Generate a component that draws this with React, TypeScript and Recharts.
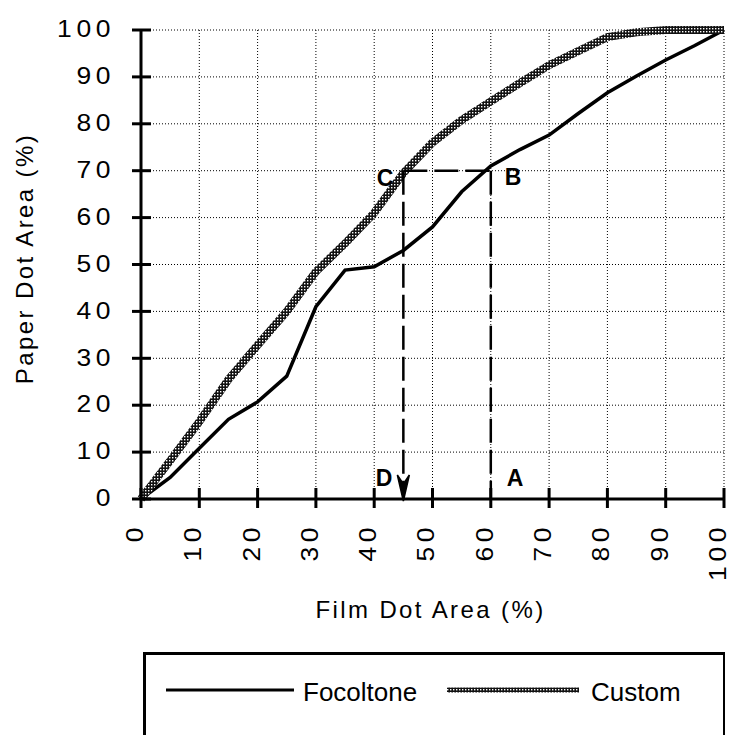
import React from 'react';
import {
  LineChart,
  Line,
  XAxis,
  YAxis,
  CartesianGrid,
  ReferenceLine,
  ReferenceDot,
  Legend,
} from 'recharts';

// ---------- data ----------
const filmDotArea = [0, 5, 10, 15, 20, 25, 30, 35, 40, 45, 50, 55, 60, 65, 70, 75, 80, 85, 90, 95, 100];
const focoltoneValues = [0, 4.6, 10.8, 17, 20.7, 26.2, 41, 48.8, 49.5, 53, 58, 65.5, 71, 74.5, 77.6, 82.2, 86.6, 90.2, 93.6, 96.7, 100];
const customValues = [0, 8.2, 16.5, 25.5, 32.8, 40, 48.5, 54.5, 61, 69.5, 76, 80.8, 84.8, 88.7, 92.5, 95.5, 98.5, 99.5, 100, 100, 100];
const axisTicks = [0, 10, 20, 30, 40, 50, 60, 70, 80, 90, 100];
const seriesNames = ['Focoltone', 'Custom'];
const xTitle = 'Film Dot Area (%)';
const yTitle = 'Paper Dot Area (%)';
const guideFilm = [45, 60];
const guidePaper = 70;
const guideLabels = ['C', 'B', 'A', 'D'];

const data = filmDotArea.map((x, i) => ({
  film: x,
  focoltone: focoltoneValues[i],
  custom: customValues[i],
}));

// ---------- styling helpers ----------
const FONT = '"Liberation Sans", Arial, Helvetica, sans-serif';
const TICK_SIZE = 9;
const TICK_MARGIN = 0;

function YTick(props: any) {
  const { x, y, payload } = props;
  const ax = x + TICK_SIZE + TICK_MARGIN;
  return (
    <g>
      <line x1={ax - 9} x2={ax + 10} y1={y} y2={y} stroke="#000" strokeWidth={3} />
      <text
        transform={`translate(${ax - 26},${y - 1}) scale(1.15,1)`}
        textAnchor="end"
        dy="0.36em"
        fontFamily={FONT}
        fontSize={23}
        letterSpacing={4}
        fill="#000"
      >
        {payload.value}
      </text>
    </g>
  );
}

function XTick(props: any) {
  const { x, y, payload } = props;
  const ay = y - TICK_SIZE - TICK_MARGIN;
  return (
    <g>
      <line x1={x} x2={x} y1={ay - 11} y2={ay + 9} stroke="#000" strokeWidth={3} />
      <text
        transform={`translate(${x - 5},${ay + 24}) rotate(-90) scale(1.15,1)`}
        textAnchor="end"
        dy="0.3em"
        fontFamily={FONT}
        fontSize={23}
        letterSpacing={4}
        fill="#000"
      >
        {payload.value}
      </text>
    </g>
  );
}

const XTitle = (p: any) => {
  const vb = p.viewBox || { x: 141, y: 499, width: 583, height: 236 };
  return (
    <text
      x={vb.x + vb.width / 2 - 2}
      y={vb.y + 119}
      textAnchor="middle"
      fontFamily={FONT}
      fontSize={24}
      letterSpacing={2.4}
      fill="#000"
    >
      {xTitle}
    </text>
  );
};

const YTitle = (p: any) => {
  const vb = p.viewBox || { x: 0, y: 30, width: 141, height: 469 };
  const cx = 33;
  const cy = vb.y + vb.height / 2 - 6;
  return (
    <text
      transform={`translate(${cx},${cy}) rotate(-90)`}
      textAnchor="middle"
      fontFamily={FONT}
      fontSize={24}
      letterSpacing={2.4}
      fill="#000"
    >
      {yTitle}
    </text>
  );
};

const labelShape = (label: string, dx: number, dy: number, anchor: string) => (p: any) => (
  <text
    x={p.cx + dx}
    y={p.cy + dy}
    textAnchor={anchor}
    fontFamily={FONT}
    fontWeight="bold"
    fontSize={23}
    fill="#000"
  >
    {label}
  </text>
);

const arrowShape = (p: any) => (
  <path
    d={`M${p.cx - 6},${p.cy - 24} L${p.cx},${p.cy + 2} L${p.cx + 6},${p.cy - 24} L${p.cx},${p.cy - 15} Z`}
    fill="#000"
    stroke="#000"
    strokeWidth={1.5}
    strokeLinejoin="miter"
  />
);

function LegendBox() {
  return (
    <div
      style={{
        width: 582,
        height: 83,
        boxSizing: 'border-box',
        borderTop: '3px solid #000',
        borderLeft: '3px solid #000',
        borderRight: '2px solid #000',
        background: '#fff',
      }}
    >
      <svg width={577} height={80} style={{ display: 'block' }}>
        <line x1={20} x2={148} y1={35} y2={35} stroke="#000" strokeWidth={3} />
        <text x={157} y={46} fontFamily={FONT} fontSize={26} fill="#000">
          {seriesNames[0]}
        </text>
        <line x1={301} x2={433} y1={35} y2={35} stroke="url(#customPattern)" strokeWidth={5} />
        <text x={445} y={46} fontFamily={FONT} fontSize={26} fill="#000">
          {seriesNames[1]}
        </text>
      </svg>
    </div>
  );
}

export default function App() {
  const dash = '24 7';
  return (
    <div style={{ position: 'absolute', left: 0, top: 0, width: 731, height: 735, background: '#fff', overflow: 'hidden' }}>
      <svg width={0} height={0} style={{ position: 'absolute' }}>
        <defs>
          <pattern id="customPattern" width={3} height={3} patternUnits="userSpaceOnUse">
            <rect x={0} y={0} width={3} height={3} fill="#111" />
            <rect x={1} y={1} width={1.4} height={1.4} fill="#fff" />
          </pattern>
        </defs>
      </svg>
      <LineChart
        width={731}
        height={735}
        data={data}
        margin={{ top: 30, right: 7, left: 0, bottom: 0 }}
      >
        <CartesianGrid stroke="#000" strokeDasharray="1 2" strokeWidth={1} />
        <XAxis
          type="number"
          dataKey="film"
          domain={[0, 100]}
          ticks={axisTicks}
          interval={0}
          height={236}
          tickSize={TICK_SIZE}
          tickMargin={TICK_MARGIN}
          tickLine={false}
          tick={<XTick />}
          axisLine={{ stroke: '#000', strokeWidth: 3 }}
          label={{ content: XTitle }}
        />
        <YAxis
          type="number"
          domain={[0, 100]}
          ticks={axisTicks}
          interval={0}
          width={141}
          tickSize={TICK_SIZE}
          tickMargin={TICK_MARGIN}
          tickLine={false}
          tick={<YTick />}
          axisLine={{ stroke: '#000', strokeWidth: 3 }}
          label={{ content: YTitle }}
        />
        <Line
          type="linear"
          dataKey="focoltone"
          name={seriesNames[0]}
          stroke="#000"
          strokeWidth={3.5}
          dot={false}
          activeDot={false}
          isAnimationActive={false}
        />
        <Line
          type="linear"
          dataKey="custom"
          name={seriesNames[1]}
          stroke="url(#customPattern)"
          strokeWidth={8}
          dot={false}
          activeDot={false}
          isAnimationActive={false}
        />
        <ReferenceLine
          segment={[{ x: guideFilm[0], y: guidePaper }, { x: guideFilm[1], y: guidePaper }]}
          stroke="#000"
          strokeWidth={2.5}
          strokeDasharray={dash}
        />
        <ReferenceLine
          segment={[{ x: guideFilm[1], y: guidePaper }, { x: guideFilm[1], y: 0 }]}
          stroke="#000"
          strokeWidth={2.5}
          strokeDasharray={dash}
        />
        <ReferenceLine
          segment={[{ x: guideFilm[0], y: guidePaper }, { x: guideFilm[0], y: 0 }]}
          stroke="#000"
          strokeWidth={2.5}
          strokeDasharray={dash}
        />
        <ReferenceDot x={guideFilm[0]} y={0} r={1} shape={arrowShape} />
        <ReferenceDot x={guideFilm[0]} y={guidePaper} r={1} shape={labelShape(guideLabels[0], -10, 15, 'end')} />
        <ReferenceDot x={guideFilm[1]} y={guidePaper} r={1} shape={labelShape(guideLabels[1], 14, 14, 'start')} />
        <ReferenceDot x={guideFilm[1]} y={0} r={1} shape={labelShape(guideLabels[2], 16, -13, 'start')} />
        <ReferenceDot x={guideFilm[0]} y={0} r={1} shape={labelShape(guideLabels[3], -11, -13, 'end')} />
        <Legend
          layout="vertical"
          align="center"
          verticalAlign="middle"
          wrapperStyle={{ left: 143, top: 652, width: 582, height: 83 }}
          content={<LegendBox />}
        />
      </LineChart>
    </div>
  );
}
